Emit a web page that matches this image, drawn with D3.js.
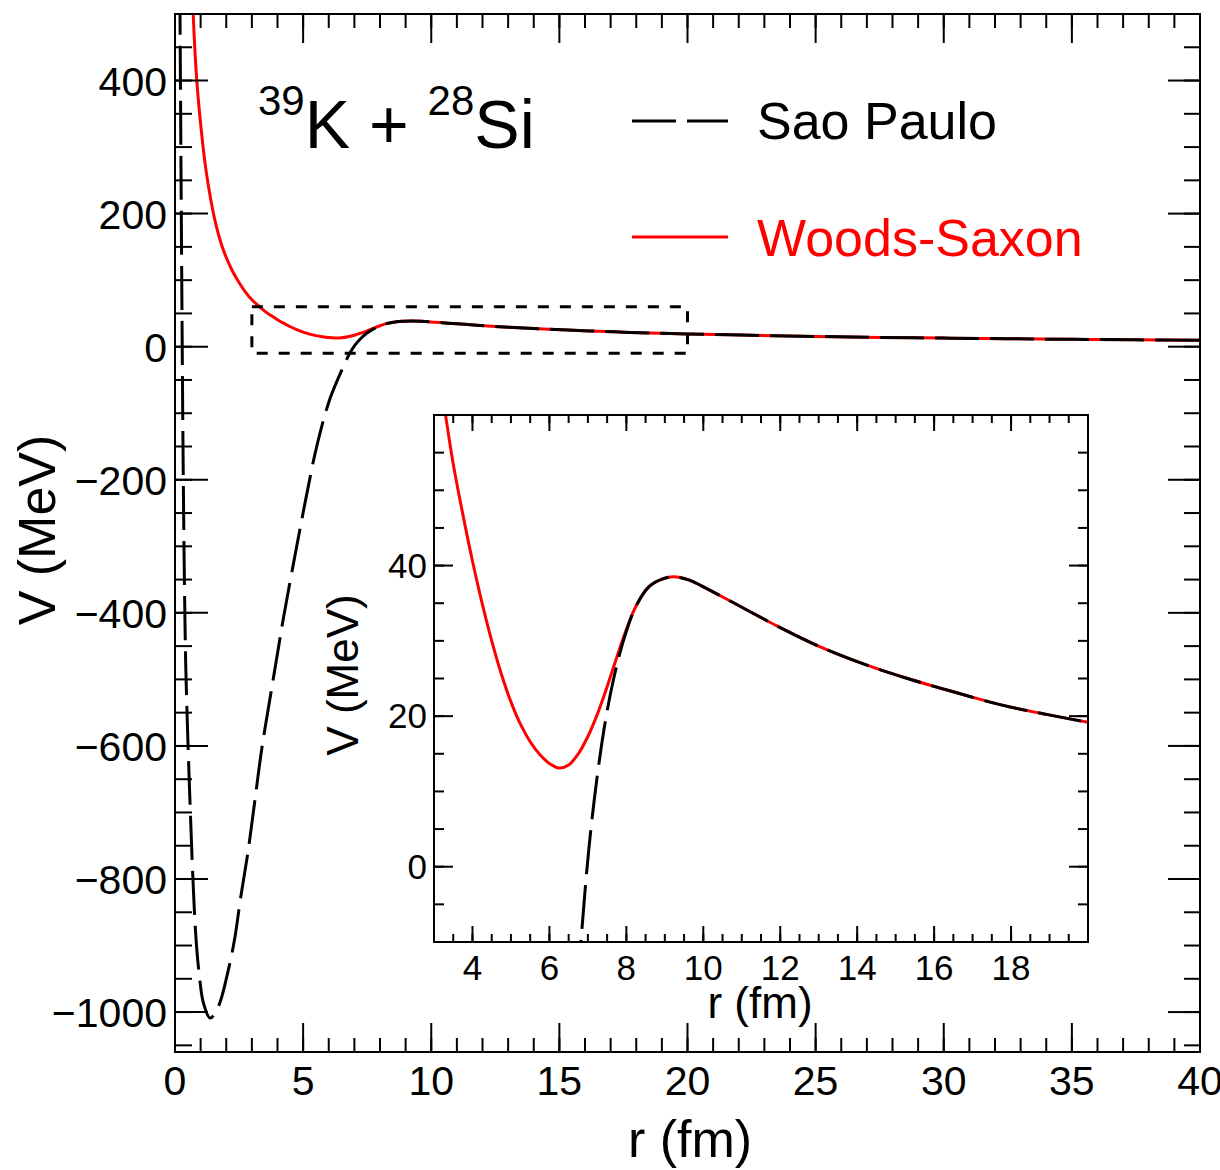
<!DOCTYPE html>
<html>
<head>
<meta charset="utf-8">
<script src="https://cdn.jsdelivr.net/npm/d3@7"></script>
<style>
  body { margin: 0; background: #fff; }
  svg { display: block; }
  text { font-family: "Liberation Sans", Arial, Helvetica, sans-serif; fill: #000; }
</style>
</head>
<body>
<svg id="chart" width="1220" height="1170"></svg>
<script>
// Nucleus-nucleus potential V(r) for 39K + 28Si: Sao Paulo vs Woods-Saxon

// Sao Paulo potential, inner region (deep attractive pocket)
const rSaoPauloInner = [0.17, 0.19, 0.22, 0.26, 0.31, 0.36, 0.42, 0.51, 0.60, 0.70, 0.82, 0.95, 1.10, 1.37, 1.69, 2.08, 2.34, 2.55, 2.86, 3.12, 3.38, 3.71, 3.97, 4.23, 4.75, 5.14, 5.53, 6.05, 6.57, 6.82, 7.03, 7.25, 7.47, 7.68, 7.94, 8.25];
const vSaoPauloInner = [700, 540, 350, 120, -140, -330, -480, -600, -700, -800, -890, -945, -985, -1009, -992, -937, -887, -831, -756, -681, -606, -528, -468, -408, -300, -222, -150, -78, -30, -10, 2.6, 12.3, 19.8, 25.2, 30.3, 34.6];

// Woods-Saxon potential, inner region (repulsive core and shallow pocket)
const rWoodsSaxonInner = [0.60, 0.71, 0.85, 1.04, 1.20, 1.40, 1.60, 1.80, 2.00, 2.25, 2.50, 2.75, 3.00, 3.30, 3.50, 3.75, 4.00, 4.25, 4.50, 4.75, 5.00, 5.25, 5.50, 5.75, 6.00, 6.25, 6.50, 6.75, 7.00, 7.25, 7.50, 7.75, 8.00, 8.25];
const vWoodsSaxonInner = [640, 500, 400, 320, 268, 220, 183, 155, 134, 113, 96.5, 82, 70.5, 60.0, 53.5, 46.8, 40.6, 35.0, 30.0, 25.6, 21.9, 18.9, 16.6, 14.9, 13.7, 13.1, 13.5, 15.0, 17.3, 20.3, 23.9, 27.8, 31.5, 34.6];

// Common tail: both potentials coincide beyond the barrier
const rTail = [8.59, 8.93, 9.23, 9.62, 10.14, 10.66, 11.17, 11.91, 13.04, 14.18, 15.31, 16.52, 17.74, 18.95, 20.0, 22.5, 25.0, 27.5, 30.0, 32.5, 35.0, 37.5, 40.0];
const vTail = [37.2, 38.2, 38.5, 38.1, 36.8, 35.4, 34.0, 32.0, 29.2, 26.9, 25.0, 23.2, 21.5, 20.2, 19.2, 17.1, 15.4, 14.0, 12.9, 11.9, 11.0, 10.3, 9.7];

// Axis ticks
const mainXMajor = d3.range(0, 41, 5);
const mainXMinor = d3.range(0, 41, 1);
const mainYMajor = d3.range(-1000, 401, 200);
const mainYMinor = d3.range(-1050, 501, 50);
const insetXMajor = d3.range(4, 19, 2);
const insetXMinor = d3.range(3.5, 20, 0.5);
const insetYMajor = [0, 20, 40];
const insetYMinor = d3.range(-5, 60, 5);

const toPoints = (rs, vs) => rs.map((r, i) => ({ r, v: vs[i] }));
const saoPaulo = toPoints(rSaoPauloInner.concat(rTail), vSaoPauloInner.concat(vTail));
const woodsSaxon = toPoints(rWoodsSaxonInner.concat(rTail), vWoodsSaxonInner.concat(vTail));

const svg = d3.select('#chart');
const fmt = v => String(v).replace('-', '\u2212');

// ---------- main frame ----------
const x = d3.scaleLinear().domain([0, 40]).range([175, 1200]);
const y = d3.scaleLinear().domain([-1060, 500]).range([1052, 14]);

// ---------- inset frame ----------
const xi = d3.scaleLinear().domain([3, 20]).range([434, 1088]);
const yi = d3.scaleLinear().domain([-10, 60]).range([942, 415]);

const defs = svg.append('defs');
defs.append('clipPath').attr('id', 'clipMain').append('rect')
  .attr('x', x(0)).attr('y', y(500)).attr('width', x(40) - x(0)).attr('height', y(-1060) - y(500));
defs.append('clipPath').attr('id', 'clipInset').append('rect')
  .attr('x', xi(3)).attr('y', yi(60)).attr('width', xi(20) - xi(3)).attr('height', yi(-10) - yi(60));

function drawTicks(g, values, scale, len, side, at) {
  const horiz = side === 'bottom' || side === 'top';
  g.selectAll(null).data(values).join('line')
    .attr('x1', d => horiz ? scale(d) : at)
    .attr('x2', d => horiz ? scale(d) : (side === 'left' ? at + len : at - len))
    .attr('y1', d => horiz ? at : scale(d))
    .attr('y2', d => horiz ? (side === 'bottom' ? at - len : at + len) : scale(d))
    .attr('stroke', '#000').attr('stroke-width', 2);
}

function drawCurves(g, xs, ys, clipId) {
  const line = d3.line()
    .x(d => xs(d.r)).y(d => ys(d.v))
    .curve(d3.curveCatmullRom.alpha(0.5));
  const c = g.append('g').attr('clip-path', `url(#${clipId})`);
  c.append('path').datum(woodsSaxon)
    .attr('d', line).attr('fill', 'none')
    .attr('stroke', '#ff0000').attr('stroke-width', 3);
  c.append('path').datum(saoPaulo)
    .attr('d', line).attr('fill', 'none')
    .attr('stroke', '#000').attr('stroke-width', 3)
    .attr('stroke-dasharray', '44,11');
}

// Main panel
const gMain = svg.append('g');
gMain.append('rect').attr('x', x(0)).attr('y', y(500))
  .attr('width', x(40) - x(0)).attr('height', y(-1060) - y(500)).attr('fill', '#fff');
drawCurves(gMain, x, y, 'clipMain');

const ticksMain = gMain.append('g');
drawTicks(ticksMain, mainXMinor, x, 14, 'bottom', y(-1060));
drawTicks(ticksMain, mainXMajor, x, 29, 'bottom', y(-1060));
drawTicks(ticksMain, mainXMinor, x, 14, 'top', y(500));
drawTicks(ticksMain, mainXMajor, x, 29, 'top', y(500));
drawTicks(ticksMain, mainYMinor, y, 17, 'left', x(0));
drawTicks(ticksMain, mainYMajor, y, 33, 'left', x(0));
drawTicks(ticksMain, mainYMinor, y, 16, 'right', x(40));
drawTicks(ticksMain, mainYMajor, y, 32, 'right', x(40));
gMain.append('rect').attr('x', x(0)).attr('y', y(500))
  .attr('width', x(40) - x(0)).attr('height', y(-1060) - y(500))
  .attr('fill', 'none').attr('stroke', '#000').attr('stroke-width', 2);

gMain.selectAll('text.xl').data(mainXMajor).join('text')
  .attr('x', d => x(d)).attr('y', 1095)
  .attr('text-anchor', 'middle').style('font-size', '41px').text(d => d);
gMain.selectAll('text.yl').data(mainYMajor).join('text')
  .attr('x', 167).attr('y', d => y(d) + 15)
  .attr('text-anchor', 'end').style('font-size', '41px').text(d => fmt(d));

svg.append('text').attr('x', 690).attr('y', 1157)
  .attr('text-anchor', 'middle').style('font-size', '52px').text('r (fm)');
svg.append('text').attr('transform', 'translate(55,530) rotate(-90)')
  .attr('text-anchor', 'middle').style('font-size', '52px').text('V (MeV)');

// Zoom window marking the inset region
svg.append('rect')
  .attr('x', x(3)).attr('y', y(60))
  .attr('width', x(20) - x(3)).attr('height', y(-10) - y(60))
  .attr('fill', 'none').attr('stroke', '#000').attr('stroke-width', 3)
  .attr('stroke-dasharray', '11,11');

// Reaction label
const title = svg.append('text').attr('x', 258).attr('y', 148).style('font-size', '68px');
title.append('tspan').text('39').style('font-size', '42px').attr('dy', -33);
title.append('tspan').text('K + ').attr('dy', 33);
title.append('tspan').text('28').style('font-size', '42px').attr('dy', -33);
title.append('tspan').text('Si').attr('dy', 33);

// Legend
const legend = svg.append('g');
legend.append('line').attr('x1', 632).attr('x2', 728).attr('y1', 121).attr('y2', 121)
  .attr('stroke', '#000').attr('stroke-width', 3).attr('stroke-dasharray', '44,11');
legend.append('text').attr('x', 757).attr('y', 139).style('font-size', '52px').text('Sao Paulo');
legend.append('line').attr('x1', 632).attr('x2', 728).attr('y1', 237).attr('y2', 237)
  .attr('stroke', '#ff0000').attr('stroke-width', 3);
legend.append('text').attr('x', 757).attr('y', 256).style('font-size', '52px')
  .style('fill', '#ff0000').text('Woods-Saxon');

// Inset panel
const gIn = svg.append('g');
gIn.append('rect').attr('x', xi(3)).attr('y', yi(60))
  .attr('width', xi(20) - xi(3)).attr('height', yi(-10) - yi(60)).attr('fill', '#fff');
drawCurves(gIn, xi, yi, 'clipInset');
const ticksIn = gIn.append('g');
drawTicks(ticksIn, insetXMinor, xi, 8, 'bottom', yi(-10));
drawTicks(ticksIn, insetXMajor, xi, 16, 'bottom', yi(-10));
drawTicks(ticksIn, insetXMinor, xi, 8, 'top', yi(60));
drawTicks(ticksIn, insetXMajor, xi, 16, 'top', yi(60));
drawTicks(ticksIn, insetYMinor, yi, 10, 'left', xi(3));
drawTicks(ticksIn, insetYMajor, yi, 19, 'left', xi(3));
drawTicks(ticksIn, insetYMinor, yi, 10, 'right', xi(20));
drawTicks(ticksIn, insetYMajor, yi, 19, 'right', xi(20));
gIn.append('rect').attr('x', xi(3)).attr('y', yi(60))
  .attr('width', xi(20) - xi(3)).attr('height', yi(-10) - yi(60))
  .attr('fill', 'none').attr('stroke', '#000').attr('stroke-width', 2);

gIn.selectAll('text.xl').data(insetXMajor).join('text')
  .attr('x', d => xi(d)).attr('y', 980)
  .attr('text-anchor', 'middle').style('font-size', '35px').text(d => d);
gIn.selectAll('text.yl').data(insetYMajor).join('text')
  .attr('x', 427).attr('y', d => yi(d) + 12)
  .attr('text-anchor', 'end').style('font-size', '35px').text(d => d);
gIn.append('text').attr('x', 760).attr('y', 1018)
  .attr('text-anchor', 'middle').style('font-size', '44px').text('r (fm)');
gIn.append('text').attr('transform', 'translate(358,675) rotate(-90)')
  .attr('text-anchor', 'middle').style('font-size', '44px').text('V (MeV)');
</script>
</body>
</html>
